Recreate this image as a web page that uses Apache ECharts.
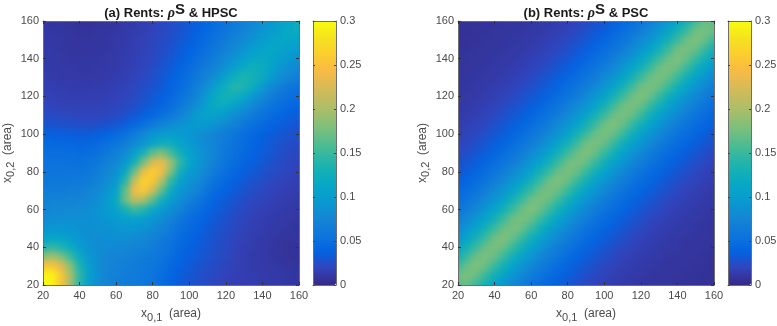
<!DOCTYPE html>
<html><head><meta charset="utf-8">
<script src="https://cdn.jsdelivr.net/npm/echarts@6/dist/echarts.min.js"></script>
<style>
html,body{margin:0;padding:0;background:#fff;width:777px;height:326px;overflow:hidden}
#main{position:absolute;left:0;top:0;width:777px;height:326px;z-index:2}
.clip{position:absolute;top:21px;width:256px;height:264px;overflow:hidden;z-index:1}
.inner{position:absolute;left:-30px;top:-30px;width:316px;height:324px}
.soft{filter:blur(3.2px)}
</style></head><body>
<div class="clip" style="left:43px"><div class="inner" id="baseA"></div><div class="inner soft" id="hmA"></div></div>
<div class="clip" style="left:458px"><div class="inner" id="baseB"></div><div class="inner soft" id="hmB"></div></div>
<div id="main"></div>
<script>
const x01Cats=[20,25,30,35,40,45,50,55,60,65,70,75,80,85,90,95,100,105,110,115,120,125,130,135,140,145,150,155,160];
const x02Cats=[160,155,150,145,140,135,130,125,120,115,110,105,100,95,90,85,80,75,70,65,60,55,50,45,40,35,30,25,20];
const colorTicks=[0,0.05,0.1,0.15,0.2,0.25,0.3];
const parula=['#352a87','#3243ba','#0363e1','#0d75dc','#1485d4','#0998d1','#06a7c6','#15b1b4','#38b99e','#65be86','#92bf73','#b7bd64','#d9ba56','#f8bb44','#fcce2e','#f5e41d','#f9fb0e'];
// per-mille values, top row is x0,2 = 160, left column is x0,1 = 20
const rentsHPSC=[
[10,9,8,7,6,6,7,8,9,11,13,15,18,21,24,27,31,36,41,48,55,62,69,76,84,92,102,112,122],
[11,10,9,8,7,7,8,9,10,12,14,16,19,22,25,28,33,38,44,51,58,65,73,81,90,99,108,116,120],
[11,11,10,9,8,8,9,10,11,12,15,17,20,23,26,30,35,41,48,55,63,71,80,89,98,106,113,113,110],
[12,11,10,9,9,9,9,10,12,13,15,18,21,24,28,33,38,45,53,61,70,80,90,100,108,112,108,102,100],
[12,11,11,10,10,10,10,11,12,14,16,19,22,26,30,36,42,50,58,68,78,90,102,112,116,110,100,93,88],
[13,12,11,11,10,10,11,12,13,15,17,20,24,28,33,39,47,56,66,77,90,104,118,126,120,106,92,84,78],
[14,13,12,12,11,11,12,13,14,16,19,22,26,30,36,43,52,62,74,88,108,125,135,130,118,98,84,74,68],
[16,15,14,13,13,13,14,14,16,18,21,24,28,33,39,47,57,69,84,108,125,140,135,120,96,80,68,58,54],
[18,17,16,15,15,15,15,16,18,20,23,27,31,36,43,52,63,77,100,120,130,125,115,94,80,67,58,50,47],
[20,19,18,17,17,17,17,18,20,22,26,30,35,41,49,60,72,88,107,120,118,104,90,77,66,56,49,44,40],
[24,23,22,21,20,20,20,21,23,26,31,36,43,51,60,71,85,100,108,105,95,84,73,63,54,47,42,37,34],
[28,28,27,26,25,25,25,27,30,35,43,52,62,72,80,88,94,98,95,88,79,69,60,52,45,40,35,32,29],
[37,36,35,34,33,33,35,38,45,53,64,76,90,98,100,98,92,86,80,72,65,57,50,43,38,34,31,28,26],
[45,44,43,42,41,42,45,50,58,66,78,92,108,122,122,108,96,88,78,70,62,54,47,41,36,32,28,25,23],
[50,49,49,48,47,49,53,60,68,80,100,130,165,180,155,125,106,92,80,70,60,52,45,39,34,30,26,23,21],
[53,53,53,53,52,55,60,68,78,92,125,175,225,235,195,145,110,94,80,67,56,48,41,36,31,27,24,21,19],
[56,56,56,56,56,59,66,75,85,112,170,235,262,240,180,125,100,90,74,61,50,43,36,32,28,25,22,20,18],
[60,60,60,61,61,65,72,82,95,140,215,265,255,205,145,105,90,80,64,52,44,37,32,28,25,22,19,17,16],
[65,66,66,67,68,71,78,90,105,165,240,255,220,165,118,95,82,70,55,45,38,33,28,25,22,19,17,15,14],
[70,71,72,73,74,77,84,97,115,170,210,200,165,125,100,85,70,60,47,39,33,29,25,22,19,17,15,14,12],
[75,77,78,79,80,82,88,98,105,130,150,140,115,98,85,72,58,50,41,34,29,26,22,19,17,15,13,12,11],
[80,83,84,84,84,85,88,93,98,102,104,100,92,82,72,60,50,43,36,31,27,23,20,17,15,13,12,11,10],
[90,93,92,90,87,85,86,88,90,92,92,88,82,73,63,53,45,39,33,29,25,22,18,16,14,12,11,9,9],
[105,110,108,100,92,85,83,84,85,84,82,78,72,65,57,48,41,36,31,27,24,20,17,14,13,11,9,8,8],
[135,145,135,118,100,88,82,80,78,76,73,70,66,60,52,44,38,34,30,26,23,19,16,14,12,10,8,7,7],
[185,195,180,150,118,95,83,77,74,71,68,65,62,56,48,41,35,32,28,25,22,18,15,13,12,10,8,7,7],
[250,255,230,185,135,102,84,75,71,68,65,62,58,52,44,37,33,29,26,23,20,17,15,13,12,11,10,9,8],
[295,295,255,200,145,105,85,74,69,66,63,60,56,49,41,35,31,27,24,21,19,17,15,14,13,12,11,10,9],
[300,295,250,195,140,103,84,73,68,65,62,59,54,47,39,33,29,26,23,20,18,16,15,14,13,12,11,10,9]
];
const rentsPSC=[
[6,6,6,7,7,8,8,9,10,11,12,14,16,19,22,26,30,35,41,48,56,66,78,92,108,128,150,170,165],
[6,6,7,7,8,8,9,10,11,12,14,16,19,22,26,30,35,41,48,56,66,78,92,108,128,150,172,178,170],
[6,7,7,8,8,9,10,11,12,14,16,19,22,26,30,35,41,48,56,66,78,92,108,128,150,170,180,170,150],
[7,7,8,8,9,10,11,12,14,16,19,22,26,30,35,41,48,56,66,78,92,108,128,150,172,178,170,150,128],
[7,8,8,9,10,11,12,14,16,19,22,26,30,35,41,48,56,66,78,92,108,128,150,170,180,170,150,128,108],
[8,8,9,10,11,12,14,16,19,22,26,30,35,41,48,56,66,78,92,108,128,150,172,178,170,150,128,108,92],
[8,9,10,11,12,14,16,19,22,26,30,35,41,48,56,66,78,92,108,128,150,170,178,170,150,128,108,92,78],
[9,10,11,12,14,16,19,22,26,30,35,41,48,56,66,78,92,108,128,150,172,178,170,150,128,108,92,78,66],
[10,11,12,14,16,19,22,26,30,35,41,48,56,66,78,92,108,128,150,170,180,170,150,128,108,92,78,66,56],
[11,12,14,16,19,22,26,30,35,41,48,56,66,78,92,108,128,150,172,178,170,150,128,108,92,78,66,56,48],
[12,14,16,19,22,26,30,35,41,48,56,66,78,92,108,128,150,170,178,170,150,128,108,92,78,66,56,48,41],
[14,16,19,22,26,30,35,41,48,56,66,78,92,108,128,150,172,180,170,150,128,108,92,78,66,56,48,41,35],
[16,19,22,26,30,35,41,48,56,66,78,92,108,128,150,170,178,170,150,128,108,92,78,66,56,48,41,35,30],
[19,22,26,30,35,41,48,56,66,78,92,108,128,150,172,178,170,150,128,108,92,78,66,56,48,41,35,30,26],
[22,26,30,35,41,48,56,66,78,92,108,128,150,170,180,170,150,128,108,92,78,66,56,48,41,35,30,26,22],
[26,30,35,41,48,56,66,78,92,108,128,150,172,178,170,150,128,108,92,78,66,56,48,41,35,30,26,22,19],
[30,35,41,48,56,66,78,92,108,128,150,170,178,170,150,128,108,92,78,66,56,48,41,35,30,26,22,19,16],
[35,41,48,56,66,78,92,108,128,150,172,180,170,150,128,108,92,78,66,56,48,41,35,30,26,22,19,16,14],
[41,48,56,66,78,92,108,128,150,170,178,170,150,128,108,92,78,66,56,48,41,35,30,26,22,19,16,14,12],
[48,56,66,78,92,108,128,150,172,178,170,150,128,108,92,78,66,56,48,41,35,30,26,22,19,16,14,12,11],
[56,66,78,92,108,128,150,170,180,170,150,128,108,92,78,66,56,48,41,35,30,26,22,19,16,14,12,11,10],
[66,78,92,108,128,150,172,178,170,150,128,108,92,78,66,56,48,41,35,30,26,22,19,16,14,12,11,10,9],
[78,92,108,128,150,170,178,170,150,128,108,92,78,66,56,48,41,35,30,26,22,19,16,14,12,11,10,9,8],
[92,108,128,150,172,180,170,150,128,108,92,78,66,56,48,41,35,30,26,22,19,16,14,12,11,10,9,8,8],
[108,128,150,170,178,170,150,128,108,92,78,66,56,48,41,35,30,26,22,19,16,14,12,11,10,9,8,8,7],
[128,150,172,178,170,150,128,108,92,78,66,56,48,41,35,30,26,22,19,16,14,12,11,10,9,8,8,7,7],
[150,170,180,170,150,128,108,92,78,66,56,48,41,35,30,26,22,19,16,14,12,11,10,9,8,8,7,7,6],
[170,178,170,150,128,108,92,78,66,56,48,41,35,30,26,22,19,16,14,12,11,10,9,8,8,7,7,6,6],
[165,170,150,128,108,92,78,66,56,48,41,35,30,26,22,19,16,14,12,11,10,9,8,8,7,7,6,6,6]
];

function cells(rows){
  const out=[];
  rows.forEach((r,j)=>r.forEach((v,i)=>out.push([i,j,v/1000])));
  return out;
}
function heat(id,rows){
  const c=echarts.init(document.getElementById(id),null,{renderer:'canvas'});
  const mx=256/56, my=264/56;
  c.setOption({
    animation:false,
    grid:{left:30-mx,right:30-mx,top:30-my,bottom:30-my,outerBoundsMode:'none'},
    xAxis:{type:'category',data:x01Cats,show:false},
    yAxis:{type:'category',data:x02Cats,inverse:true,show:false},
    visualMap:{show:false,min:0,max:0.3,inRange:{color:parula}},
    series:[{type:'heatmap',data:cells(rows),progressive:0,animation:false}]
  });
}
heat('baseA',rentsHPSC);heat('hmA',rentsHPSC);
heat('baseB',rentsPSC);heat('hmB',rentsPSC);

const FONT='"Liberation Sans",Arial,sans-serif';
const axCol='#6e6e6e', txtCol='#4a4a4a';
const lineS={show:true,onZero:false,lineStyle:{color:axCol,width:1}};
const rich={sub:{fontFamily:FONT,fontSize:11,color:txtCol,padding:[8,0,0,0]},n:{fontFamily:FONT,fontSize:12,color:txtCol}};
const grids=[
 {left:43,top:21,width:256,height:264,outerBoundsMode:'none'},
 {left:313,top:21,width:23,height:264,outerBoundsMode:'none'},
 {left:458,top:21,width:256,height:264,outerBoundsMode:'none'},
 {left:728,top:21,width:23,height:264,outerBoundsMode:'none'}
];
const xAxes=[],yAxes=[],dummy=[];
function panel(g,xname,yname){
  const base={type:'value',gridIndex:g,min:20,max:160,interval:20,z:10,splitLine:{show:false},axisLine:lineS,
    axisTick:{show:true,inside:true,length:3,lineStyle:{color:'#333'}}};
  xAxes.push(Object.assign({},base,{position:'bottom',name:xname,nameLocation:'middle',nameGap:19,
    nameTextStyle:{rich,fontFamily:FONT,fontSize:12,color:txtCol},
    axisLabel:{color:txtCol,fontFamily:FONT,fontSize:11,margin:5,hideOverlap:false,showMinLabel:true,showMaxLabel:true}}));
  xAxes.push(Object.assign({},base,{position:'top',axisLabel:{show:false}}));
  yAxes.push(Object.assign({},base,{position:'left',name:yname,nameLocation:'middle',nameGap:26,nameRotate:90,
    nameTextStyle:{rich,fontFamily:FONT,fontSize:12,color:txtCol},
    axisLabel:{color:txtCol,fontFamily:FONT,fontSize:11,margin:4,hideOverlap:false,showMinLabel:true,showMaxLabel:true}}));
  yAxes.push(Object.assign({},base,{position:'right',axisLabel:{show:false}}));
  const xi=xAxes.length-2, yi=yAxes.length-2;
  dummy.push({type:'scatter',xAxisIndex:xi,yAxisIndex:yi,data:[],silent:true});
  dummy.push({type:'scatter',xAxisIndex:xi+1,yAxisIndex:yi+1,data:[],silent:true});
}
function cbar(g){
  xAxes.push({type:'value',gridIndex:g,min:0,max:1,show:true,position:'bottom',z:10,axisLine:lineS,axisTick:{show:false},axisLabel:{show:false},splitLine:{show:false}});
  xAxes.push({type:'value',gridIndex:g,min:0,max:1,show:true,position:'top',z:10,axisLine:lineS,axisTick:{show:false},axisLabel:{show:false},splitLine:{show:false}});
  const b={type:'value',gridIndex:g,min:0,max:0.3,interval:0.05,z:10,axisLine:lineS,splitLine:{show:false},
    axisTick:{show:true,inside:true,length:2,lineStyle:{color:'#444'}}};
  yAxes.push(Object.assign({},b,{position:'right',axisLabel:{color:txtCol,fontFamily:FONT,fontSize:11,margin:4,
    formatter:v=>{const t=colorTicks.find(k=>Math.abs(k-v)<1e-6);return t===undefined?'':String(t);},hideOverlap:false,showMinLabel:true,showMaxLabel:true}}));
  yAxes.push(Object.assign({},b,{position:'left',axisLabel:{show:false}}));
  const xi=xAxes.length-2, yi=yAxes.length-2;
  dummy.push({type:'scatter',xAxisIndex:xi,yAxisIndex:yi,data:[],silent:true});
  dummy.push({type:'scatter',xAxisIndex:xi+1,yAxisIndex:yi+1,data:[],silent:true});
}
const nameX='{n|x}{sub|0,1}{n|  (area)}', nameY='{n|x}{sub|0,2}{n|  (area)}';
panel(0,nameX,nameY);
cbar(1);
panel(2,nameX,nameY);
cbar(3);
function vm(left){
  return {type:'continuous',show:true,min:0,max:0.3,seriesIndex:[],left:left,top:21,padding:0,itemWidth:23,itemHeight:264,
    calculable:false,text:null,showLabel:false,z:1,inRange:{color:parula},outOfRange:{color:parula}};
}
const titleRich={
  t:{fontFamily:FONT,fontSize:13,fontWeight:'bold',color:'#1a1a1a'},
  r:{fontFamily:'"Liberation Serif",serif',fontSize:14,fontStyle:'italic',fontWeight:'bold',color:'#1a1a1a'},
  s:{fontFamily:FONT,fontSize:15,fontWeight:'bold',color:'#1a1a1a',padding:[0,0,7,0]}
};
function ttl(text,cx){return {text,left:cx,top:2,padding:0,textAlign:'center',textStyle:{rich:titleRich,fontSize:13,fontWeight:'bold'}};}
const main=echarts.init(document.getElementById('main'),null,{renderer:'canvas'});
main.setOption({
  animation:false,
  backgroundColor:'transparent',
  title:[ttl('{t|(a) Rents: }{r|ρ}{s|S}{t| & HPSC}',171),ttl('{t|(b) Rents: }{r|ρ}{s|S}{t| & PSC}',586)],
  grid:grids,xAxis:xAxes,yAxis:yAxes,
  visualMap:[vm(313),vm(728)],
  series:dummy
});
</script></body></html>
